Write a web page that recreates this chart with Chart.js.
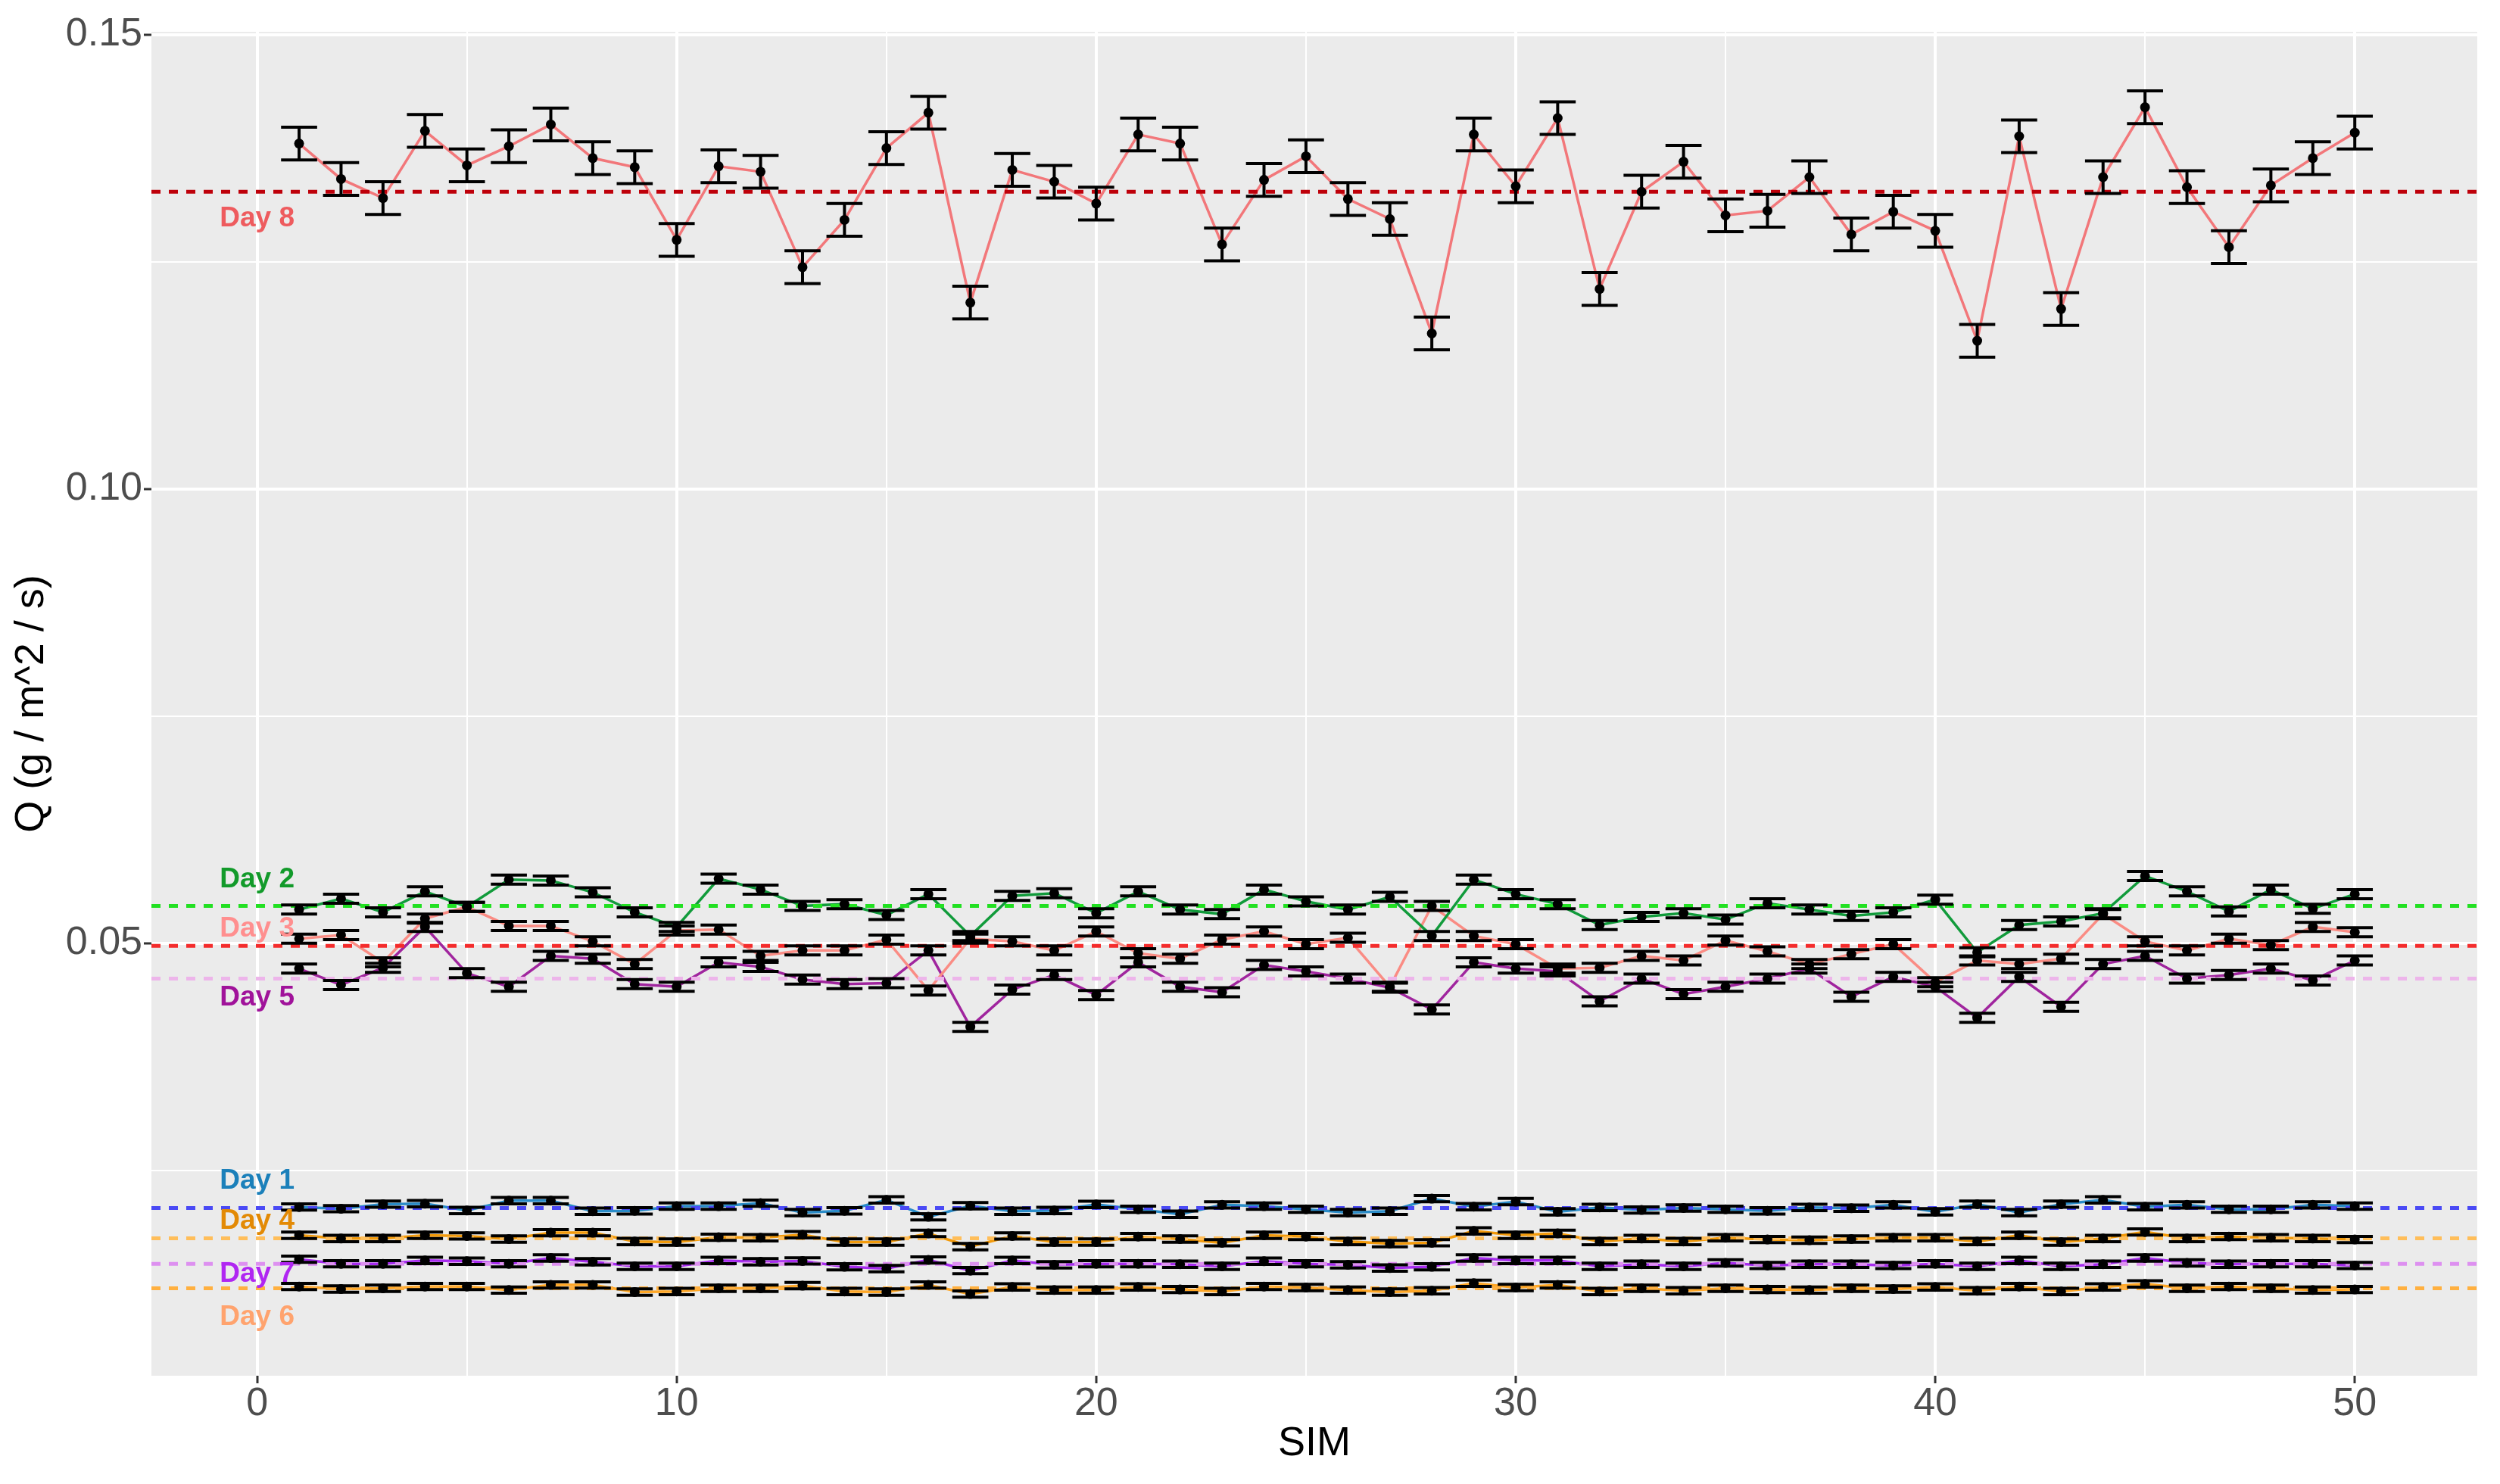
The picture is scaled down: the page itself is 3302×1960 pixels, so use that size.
<!DOCTYPE html>
<html>
<head>
<meta charset="utf-8">
<title>Q by SIM</title>
<script src="https://cdn.jsdelivr.net/npm/chart.js@4.4.1/dist/chart.umd.min.js"></script>
<style>
  html, body { margin: 0; padding: 0; background: #ffffff; }
  canvas { display: block; }
</style>
</head>
<body>
<canvas id="myChart" width="3302" height="1960" style="width:3302px;height:1960px"></canvas>
<script>
"use strict";

// SIM index on the x axis
const sims = [1, 2, 3, 4, 5, 6, 7, 8, 9, 10, 11, 12, 13, 14, 15, 16, 17, 18, 19, 20,
  21, 22, 23, 24, 25, 26, 27, 28, 29, 30, 31, 32, 33, 34, 35, 36, 37, 38, 39, 40,
  41, 42, 43, 44, 45, 46, 47, 48, 49, 50];

const xMajorTicks = [0, 10, 20, 30, 40, 50];
const xMinorTicks = [5, 15, 25, 35, 45];
const yMajorTicks = [0.05, 0.10, 0.15];
const yTickLabels = ["0.05", "0.10", "0.15"];
const yMinorTicks = [0.025, 0.075, 0.125];

const dayNames = ["Day 8", "Day 2", "Day 3", "Day 5", "Day 1", "Day 4", "Day 7", "Day 6"];

// mean Q per SIM, one array per day
const day8 = [0.1380, 0.1341, 0.1320, 0.1394, 0.1356, 0.1377, 0.1401, 0.1364, 0.1354, 0.1274,
  0.1355, 0.1349, 0.1244, 0.1296, 0.1375, 0.1414, 0.1205, 0.1351, 0.1338, 0.1314,
  0.1390, 0.1380, 0.1269, 0.1340, 0.1366, 0.1319, 0.1297, 0.1171, 0.1390, 0.1333,
  0.1408, 0.1220, 0.1327, 0.1360, 0.1301, 0.1306, 0.1343, 0.1280, 0.1305, 0.1284,
  0.1163, 0.1388, 0.1198, 0.1343, 0.1420, 0.1332, 0.1266, 0.1334, 0.1364, 0.1392];
const day2 = [0.0537, 0.0549, 0.0534, 0.0557, 0.0540, 0.0570, 0.0569, 0.0556, 0.0534, 0.0518,
  0.0571, 0.0559, 0.0541, 0.0543, 0.0531, 0.0554, 0.0508, 0.0552, 0.0555, 0.0533,
  0.0557, 0.0537, 0.0532, 0.0559, 0.0546, 0.0537, 0.0551, 0.0508, 0.0570, 0.0554,
  0.0543, 0.0520, 0.0529, 0.0533, 0.0526, 0.0544, 0.0537, 0.0530, 0.0534, 0.0548,
  0.0490, 0.0520, 0.0524, 0.0533, 0.0574, 0.0557, 0.0535, 0.0559, 0.0538, 0.0554];
const day3 = [0.0505, 0.0509, 0.0479, 0.0527, 0.0540, 0.0519, 0.0519, 0.0502, 0.0477, 0.0514,
  0.0515, 0.0486, 0.0492, 0.0492, 0.0504, 0.0448, 0.0505, 0.0502, 0.0492, 0.0513,
  0.0489, 0.0483, 0.0504, 0.0513, 0.0499, 0.0506, 0.0452, 0.0541, 0.0508, 0.0499,
  0.0472, 0.0473, 0.0486, 0.0481, 0.0503, 0.0491, 0.0477, 0.0488, 0.0499, 0.0457,
  0.0481, 0.0477, 0.0483, 0.0532, 0.0502, 0.0492, 0.0505, 0.0498, 0.0518, 0.0512];
const day5 = [0.0472, 0.0454, 0.0473, 0.0518, 0.0467, 0.0452, 0.0486, 0.0483, 0.0455, 0.0452,
  0.0479, 0.0474, 0.0460, 0.0455, 0.0456, 0.0492, 0.0408, 0.0449, 0.0465, 0.0443,
  0.0479, 0.0452, 0.0446, 0.0476, 0.0469, 0.0461, 0.0451, 0.0427, 0.0479, 0.0472,
  0.0469, 0.0436, 0.0461, 0.0444, 0.0452, 0.0461, 0.0472, 0.0441, 0.0463, 0.0452,
  0.0418, 0.0463, 0.0430, 0.0477, 0.0486, 0.0461, 0.0465, 0.0472, 0.0459, 0.0481];
const day1 = [0.02097, 0.02078, 0.02128, 0.02133, 0.02058, 0.02167, 0.02167, 0.02050, 0.02055, 0.02106,
  0.02106, 0.02139, 0.02036, 0.02055, 0.02175, 0.01989, 0.02111, 0.02050, 0.02058, 0.02125,
  0.02072, 0.02017, 0.02120, 0.02106, 0.02072, 0.02036, 0.02050, 0.02189, 0.02100, 0.02156,
  0.02044, 0.02092, 0.02064, 0.02086, 0.02072, 0.02055, 0.02092, 0.02083, 0.02120, 0.02044,
  0.02128, 0.02036, 0.02128, 0.02175, 0.02100, 0.02120, 0.02072, 0.02072, 0.02120, 0.02106];
const day4 = [0.01786, 0.01750, 0.01750, 0.01786, 0.01778, 0.01744, 0.01814, 0.01814, 0.01717, 0.01711,
  0.01764, 0.01758, 0.01792, 0.01711, 0.01711, 0.01806, 0.01661, 0.01778, 0.01711, 0.01711,
  0.01772, 0.01744, 0.01703, 0.01786, 0.01772, 0.01717, 0.01694, 0.01703, 0.01833, 0.01786,
  0.01806, 0.01717, 0.01750, 0.01717, 0.01758, 0.01739, 0.01731, 0.01744, 0.01758, 0.01758,
  0.01717, 0.01786, 0.01711, 0.01750, 0.01822, 0.01750, 0.01772, 0.01758, 0.01750, 0.01739];
const day7 = [0.01522, 0.01472, 0.01472, 0.01508, 0.01500, 0.01472, 0.01536, 0.01494, 0.01444, 0.01444,
  0.01508, 0.01494, 0.01503, 0.01439, 0.01419, 0.01514, 0.01397, 0.01508, 0.01461, 0.01472,
  0.01472, 0.01467, 0.01444, 0.01500, 0.01472, 0.01461, 0.01425, 0.01439, 0.01536, 0.01508,
  0.01508, 0.01444, 0.01467, 0.01444, 0.01481, 0.01453, 0.01467, 0.01467, 0.01453, 0.01472,
  0.01444, 0.01508, 0.01444, 0.01467, 0.01536, 0.01481, 0.01467, 0.01472, 0.01472, 0.01453];
const day6 = [0.01222, 0.01194, 0.01203, 0.01222, 0.01222, 0.01183, 0.01239, 0.01239, 0.01161, 0.01167,
  0.01203, 0.01203, 0.01231, 0.01167, 0.01161, 0.01239, 0.01139, 0.01217, 0.01183, 0.01183,
  0.01217, 0.01189, 0.01167, 0.01222, 0.01211, 0.01183, 0.01161, 0.01175, 0.01258, 0.01211,
  0.01239, 0.01167, 0.01203, 0.01175, 0.01203, 0.01189, 0.01183, 0.01203, 0.01194, 0.01217,
  0.01175, 0.01222, 0.01167, 0.01217, 0.01250, 0.01203, 0.01222, 0.01203, 0.01183, 0.01189];

// standard error per day (error bar half height)
const dayErrors = [0.0018, 0.0005, 0.0005, 0.0005, 0.00035, 0.00035, 0.00035, 0.00035];
// overall mean per day (dashed reference lines)
const dayMeans = [0.1327, 0.0541, 0.0497, 0.0461, 0.02086, 0.01753, 0.01472, 0.01203];
// where the "Day n" text sits
const labelX = 0;
const labelY = [0.1297, 0.0570, 0.0516, 0.0440, 0.0238, 0.0194, 0.01356, 0.00883];

const dayValues = [day8, day2, day3, day5, day1, day4, day7, day6];

const lineColors = ["#F2777A", "#119B3B", "#FA8C84", "#A0259E", "#2A8CC8", "#F39A0A", "#A72BEF", "#FFA726"];
const meanColors = ["#BE000A", "#22E022", "#F42C2C", "#EDB5EA", "#4A4AF5", "#FFBE5A", "#DD90F0", "#FFB040"];
const labelColors = ["#EE5B5E", "#129A2A", "#FF8F8F", "#A0129A", "#1B80BA", "#E38A05", "#B026F2", "#FFA36E"];

const X_MIN = -2.52;
const X_MAX = 52.92;
const Y_MIN = 0.0024;
const Y_MAX = 0.1503;
const CAP = 0.43;

const FONT = "'Liberation Sans', Arial, Helvetica, sans-serif";

const toPoints = (vals) => vals.map((v, i) => ({ x: sims[i], y: v }));

/*datasets: coloured lines, dashed means, black points*/
const datasets = [];
dayValues.forEach((vals, d) => {
  datasets.push({
    label: dayNames[d] + " line",
    data: toPoints(vals),
    borderColor: lineColors[d],
    borderWidth: 3.5,
    pointRadius: 0,
    tension: 0,
    order: 30,
  });
});
dayMeans.forEach((m, d) => {
  datasets.push({
    label: dayNames[d] + " mean",
    data: [{ x: X_MIN, y: m }, { x: X_MAX, y: m }],
    borderColor: meanColors[d],
    borderWidth: 5,
    borderDash: [12, 11],
    pointRadius: 0,
    order: 20,
  });
});
dayValues.forEach((vals, d) => {
  datasets.push({
    label: dayNames[d],
    data: toPoints(vals),
    showLine: false,
    pointRadius: 6.5,
    pointBackgroundColor: "#000000",
    pointBorderWidth: 0,
    order: 10,
  });
});

const panelBackground = {
  id: "panelBackground",
  beforeDraw(chart) {
    const { ctx, chartArea } = chart;
    ctx.save();
    ctx.fillStyle = "#ffffff";
    ctx.fillRect(0, 0, chart.width, chart.height);
    ctx.fillStyle = "#EBEBEB";
    ctx.fillRect(chartArea.left, chartArea.top, chartArea.right - chartArea.left, chartArea.bottom - chartArea.top);
    ctx.restore();
  },
};

const errorBars = {
  id: "errorBars",
  afterDatasetsDraw(chart) {
    const { ctx } = chart;
    const x = chart.scales.x;
    const y = chart.scales.y;
    ctx.save();
    ctx.strokeStyle = "#000000";
    ctx.lineWidth = 4;
    dayValues.forEach((vals, d) => {
      vals.forEach((v, i) => {
        const px = x.getPixelForValue(sims[i]);
        const l = x.getPixelForValue(sims[i] - CAP);
        const r = x.getPixelForValue(sims[i] + CAP);
        const top = y.getPixelForValue(v + dayErrors[d]);
        const bot = y.getPixelForValue(v - dayErrors[d]);
        ctx.beginPath();
        ctx.moveTo(px, top);
        ctx.lineTo(px, bot);
        ctx.moveTo(l, top);
        ctx.lineTo(r, top);
        ctx.moveTo(l, bot);
        ctx.lineTo(r, bot);
        ctx.stroke();
      });
    });
    ctx.restore();
  },
};

const dayLabels = {
  id: "dayLabels",
  afterDraw(chart) {
    const { ctx } = chart;
    const x = chart.scales.x;
    const y = chart.scales.y;
    ctx.save();
    ctx.font = "bold 37px " + FONT;
    ctx.textAlign = "center";
    ctx.textBaseline = "middle";
    dayNames.forEach((name, d) => {
      ctx.fillStyle = labelColors[d];
      ctx.fillText(name, x.getPixelForValue(labelX), y.getPixelForValue(labelY[d]));
    });
    ctx.restore();
  },
};

const isMajor = (list, v) => list.some((m) => Math.abs(m - v) < 1e-9);

var ctx = document.getElementById("myChart").getContext("2d");
var chart = new Chart(ctx, {
  type: "line",
  data: { datasets: datasets },
  options: {
    responsive: false,
    animation: false,
    devicePixelRatio: 1,
    layout: { padding: { left: 0, right: 30, top: 42, bottom: 0 } },
    plugins: {
      legend: { display: false },
      tooltip: { enabled: false },
    },
    scales: {
      x: {
        type: "linear",
        min: X_MIN,
        max: X_MAX,
        afterBuildTicks: (scale) => {
          scale.ticks = xMajorTicks.concat(xMinorTicks).sort((a, b) => a - b).map((v) => ({ value: v }));
        },
        afterFit: (scale) => {
          scale.height = 143;
        },
        border: { display: false },
        grid: {
          color: "#ffffff",
          lineWidth: (c) => (isMajor(xMajorTicks, c.tick.value) ? 4 : 2),
          drawTicks: true,
          tickLength: 10,
          tickWidth: 3,
          tickColor: (c) => (isMajor(xMajorTicks, c.tick.value) ? "#333333" : "rgba(0,0,0,0)"),
        },
        ticks: {
          autoSkip: false,
          maxRotation: 0,
          padding: 2,
          color: "#4D4D4D",
          font: { family: FONT, size: 52, lineHeight: 1 },
          callback: (v) => (isMajor(xMajorTicks, v) ? String(v) : ""),
        },
        title: {
          display: true,
          text: "SIM",
          color: "#000000",
          font: { family: FONT, size: 54 },
          padding: { top: 0, bottom: 20 },
        },
      },
      y: {
        type: "linear",
        min: Y_MIN,
        max: Y_MAX,
        afterBuildTicks: (scale) => {
          scale.ticks = yMajorTicks.concat(yMinorTicks).sort((a, b) => a - b).map((v) => ({ value: v }));
        },
        afterFit: (scale) => {
          scale.width = 200;
        },
        border: { display: false },
        grid: {
          color: "#ffffff",
          lineWidth: (c) => (isMajor(yMajorTicks, c.tick.value) ? 4 : 2),
          drawTicks: true,
          tickLength: 10,
          tickWidth: 3,
          tickColor: (c) => (isMajor(yMajorTicks, c.tick.value) ? "#333333" : "rgba(0,0,0,0)"),
        },
        ticks: {
          autoSkip: false,
          padding: 2,
          color: "#4D4D4D",
          font: { family: FONT, size: 52, lineHeight: 1 },
          callback: (v) => {
            const i = yMajorTicks.findIndex((m) => Math.abs(m - v) < 1e-9);
            return i >= 0 ? yTickLabels[i] : "";
          },
        },
        title: {
          display: true,
          text: "Q (g / m^2 / s)",
          color: "#000000",
          font: { family: FONT, size: 54 },
          padding: { top: 10, bottom: 0 },
        },
      },
    },
  },
  plugins: [panelBackground, errorBars, dayLabels],
});
</script>
</body>
</html>
